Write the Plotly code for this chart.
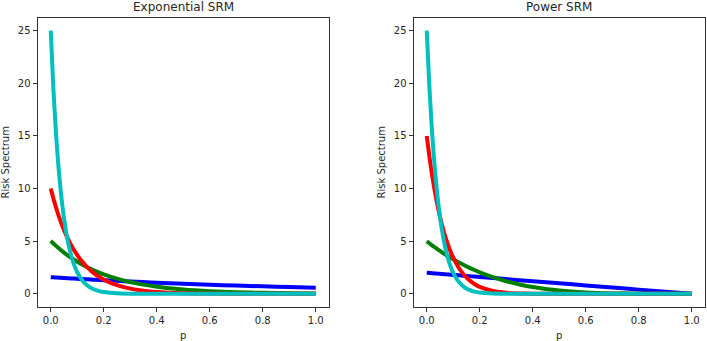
import plotly.graph_objects as go

p = [0.0, 0.01, 0.02, 0.03, 0.04, 0.05, 0.06, 0.07, 0.08, 0.09, 0.10,
     0.12, 0.14, 0.16, 0.18, 0.20, 0.25, 0.30, 0.35, 0.40, 0.5, 0.6, 0.7, 0.8, 0.9, 1.0]

# Exponential SRM (k = 1, 5, 10, 25)
exp_k1 = [1.582, 1.566, 1.551, 1.535, 1.520, 1.505, 1.490, 1.475, 1.460, 1.446, 1.431,
          1.403, 1.375, 1.348, 1.321, 1.295, 1.232, 1.172, 1.115, 1.060, 0.960, 0.868, 0.786, 0.711, 0.643, 0.582]
exp_k5 = [5.034, 4.788, 4.555, 4.333, 4.121, 3.920, 3.729, 3.547, 3.374, 3.210, 3.053,
          2.763, 2.500, 2.262, 2.047, 1.852, 1.442, 1.123, 0.875, 0.681, 0.413, 0.251, 0.152, 0.092, 0.056, 0.034]
exp_k10 = [10.0, 9.048, 8.187, 7.408, 6.703, 6.065, 5.488, 4.966, 4.493, 4.066, 3.679,
           3.012, 2.466, 2.019, 1.653, 1.353, 0.821, 0.498, 0.302, 0.183, 0.067, 0.025, 0.009, 0.003, 0.001, 0.0005]
exp_k25 = [25.0, 19.47, 15.16, 11.81, 9.197, 7.163, 5.578, 4.345, 3.383, 2.635, 2.052,
           1.245, 0.755, 0.458, 0.278, 0.168, 0.048, 0.014, 0.004, 0.001, 0.0001, 0.0, 0.0, 0.0, 0.0, 0.0]

# Power SRM (gamma = 2, 5, 15, 25)
pow_g2 = [2.0, 1.98, 1.96, 1.94, 1.92, 1.90, 1.88, 1.86, 1.84, 1.82, 1.80,
          1.76, 1.72, 1.68, 1.64, 1.60, 1.50, 1.40, 1.30, 1.20, 1.00, 0.80, 0.60, 0.40, 0.20, 0.0]
pow_g5 = [5.0, 4.803, 4.612, 4.426, 4.247, 4.073, 3.904, 3.740, 3.582, 3.429, 3.281,
          2.998, 2.735, 2.489, 2.261, 2.048, 1.582, 1.201, 0.893, 0.648, 0.3125, 0.128, 0.0405, 0.008, 0.0005, 0.0]
pow_g15 = [15.0, 13.03, 11.30, 9.792, 8.470, 7.316, 6.308, 5.430, 4.668, 4.007, 3.432,
           2.505, 1.816, 1.307, 0.932, 0.660, 0.267, 0.102, 0.036, 0.012, 0.001, 0.0, 0.0, 0.0, 0.0, 0.0]
pow_g25 = [25.0, 19.64, 15.39, 12.03, 9.385, 7.300, 5.663, 4.380, 3.380, 2.599, 1.994,
           1.163, 0.670, 0.381, 0.214, 0.118, 0.025, 0.005, 0.001, 0.0, 0.0, 0.0, 0.0, 0.0, 0.0, 0.0]

colors = ["#0000ff", "#008000", "#ff0000", "#00bfbf"]
titles = ["Exponential SRM", "Power SRM"]
x_ticks = [0.0, 0.2, 0.4, 0.6, 0.8, 1.0]
x_tick_text = ["0.0", "0.2", "0.4", "0.6", "0.8", "1.0"]
y_ticks = [0, 5, 10, 15, 20, 25]

fig = go.Figure()
for series, xa, ya in [([exp_k1, exp_k5, exp_k10, exp_k25], "x", "y"),
                       ([pow_g2, pow_g5, pow_g15, pow_g25], "x2", "y2")]:
    for vals, c in zip(series, colors):
        fig.add_trace(go.Scatter(x=p, y=vals, mode="lines", xaxis=xa, yaxis=ya,
                                 line=dict(color=c, width=4, shape="spline", smoothing=0.5),
                                 showlegend=False, hoverinfo="skip"))

font = dict(family="DejaVu Sans", size=10, color="#262626")
axcommon = dict(showgrid=False, zeroline=False, showline=True, linecolor="#333333", linewidth=1,
                mirror=True, ticks="outside", ticklen=4, tickcolor="#333333", tickfont=font)

left_dom = [37.5 / 707, 329 / 707]
right_dom = [413.5 / 707, 705 / 707]
y_dom = [34 / 341, 323.5 / 341]

fig.update_layout(
    width=707, height=341, margin=dict(l=0, r=0, t=0, b=0),
    paper_bgcolor="white", plot_bgcolor="white",
    font=font,
    xaxis=dict(domain=left_dom, range=[-0.05, 1.05], tickvals=x_ticks, ticktext=x_tick_text,
               title=dict(text="p", font=font, standoff=6), anchor="y", **axcommon),
    yaxis=dict(domain=y_dom, range=[-1.25, 26.25], tickvals=y_ticks,
               title=dict(text="Risk Spectrum", font=font, standoff=6), anchor="x", **axcommon),
    xaxis2=dict(domain=right_dom, range=[-0.05, 1.05], tickvals=x_ticks, ticktext=x_tick_text,
                title=dict(text="p", font=font, standoff=6), anchor="y2", **axcommon),
    yaxis2=dict(domain=y_dom, range=[-1.25, 26.25], tickvals=y_ticks,
                title=dict(text="Risk Spectrum", font=font, standoff=6), anchor="x2", **axcommon),
    annotations=[
        dict(text=titles[0], x=(left_dom[0] + left_dom[1]) / 2, y=y_dom[1], xref="paper", yref="paper",
             xanchor="center", yanchor="bottom", yshift=1, showarrow=False,
             font=dict(family="DejaVu Sans", size=12, color="#262626")),
        dict(text=titles[1], x=(right_dom[0] + right_dom[1]) / 2, y=y_dom[1], xref="paper", yref="paper",
             xanchor="center", yanchor="bottom", yshift=1, showarrow=False,
             font=dict(family="DejaVu Sans", size=12, color="#262626")),
    ],
)

fig.write_html("out.html")
